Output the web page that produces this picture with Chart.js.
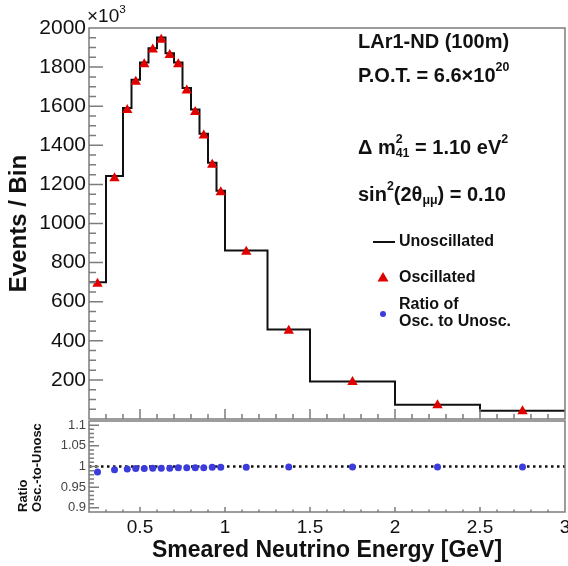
<!DOCTYPE html>
<html>
<head>
<meta charset="utf-8">
<script src="https://cdn.jsdelivr.net/npm/chart.js@4/dist/chart.umd.min.js"></script>
<style>
  html, body { margin: 0; padding: 0; background: #fff; }
  #wrap { position: relative; width: 568px; height: 566px; }
  canvas { position: absolute; left: 0; top: 0; }
</style>
</head>
<body>
<div id="wrap">
  <canvas id="main" width="568" height="566"></canvas>
  <canvas id="ratio" width="568" height="566"></canvas>
</div>
<script>
// bin edges [GeV] and contents (x10^3 events)
const binEdges = [0.2, 0.3, 0.4, 0.45, 0.5, 0.55, 0.6, 0.65, 0.7, 0.75, 0.8, 0.85, 0.9, 0.95, 1.0, 1.25, 1.5, 2.0, 2.5, 3.0];
const binCenters = [0.25, 0.35, 0.425, 0.475, 0.525, 0.575, 0.625, 0.675, 0.725, 0.775, 0.825, 0.875, 0.925, 0.975, 1.125, 1.375, 1.75, 2.25, 2.75];
const unoscillated = [700, 1243, 1591, 1735, 1823, 1896, 1952, 1871, 1823, 1693, 1583, 1459, 1311, 1167, 862, 458, 192, 73, 42];
const oscillated = [692, 1231, 1580, 1725, 1815, 1890, 1940, 1862, 1815, 1680, 1570, 1450, 1300, 1160, 855, 452, 189, 70, 40];
const ratio = [0.987, 0.992, 0.994, 0.995, 0.995, 0.996, 0.996, 0.996, 0.997, 0.997, 0.997, 0.997, 0.998, 0.998, 0.998, 0.999, 0.999, 0.999, 0.999];
const unityLine = [{ x: 0.2, y: 1 }, { x: 3.0, y: 1 }];

const mainTicks = [200, 400, 600, 800, 1000, 1200, 1400, 1600, 1800, 2000];
const ratioTicks = [0.9, 0.95, 1, 1.05, 1.1];
const energyTicks = [0.5, 1, 1.5, 2, 2.5, 3];

const FONT = "'Liberation Sans', Arial, Helvetica, sans-serif";
Chart.defaults.font.family = FONT;
Chart.defaults.color = "#111";

// ROOT style frame with inward tick marks
function framePlugin(o) {
  return {
    id: "frame",
    afterDatasetsDraw(chart) {
      const { ctx, chartArea: a, scales: { x, y } } = chart;
      ctx.save();
      ctx.strokeStyle = "#7c7c7c";
      ctx.lineWidth = 1.5;
      ctx.beginPath();
      let k0 = Math.ceil(y.min / o.yMinor - 1e-6), k1 = Math.floor(y.max / o.yMinor + 1e-6);
      for (let k = k0; k <= k1; k++) {
        const p = y.getPixelForValue(k * o.yMinor);
        const len = k % o.yEvery === 0 ? o.yLen : o.yLen / 2;
        ctx.moveTo(a.left, p);
        ctx.lineTo(a.left + len, p);
      }
      k0 = Math.ceil(x.min / o.xMinor - 1e-6); k1 = Math.floor(x.max / o.xMinor + 1e-6);
      for (let k = k0; k <= k1; k++) {
        const p = x.getPixelForValue(k * o.xMinor);
        const len = k % o.xEvery === 0 ? o.xLen : o.xLen / 2;
        ctx.moveTo(p, a.bottom);
        ctx.lineTo(p, a.bottom - len);
      }
      ctx.rect(a.left, a.top, a.right - a.left, a.bottom - a.top);
      ctx.stroke();
      ctx.restore();
    }
  };
}

function richText(ctx, x, y, parts, size, weight) {
  for (const [t, m, noAdvance] of parts) {
    const s = m ? size * 0.62 : size;
    ctx.font = `${weight} ${s}px ${FONT}`;
    const dy = m === "^" ? -size * 0.4 : m === "_" ? size * 0.28 : 0;
    ctx.fillText(t, x, y + dy);
    if (!noAdvance) x += ctx.measureText(t).width;
  }
}

const annotations = {
  id: "annotations",
  afterDraw(chart) {
    const { ctx } = chart;
    ctx.save();
    ctx.fillStyle = "#111";
    ctx.textBaseline = "middle";
    ctx.textAlign = "left";
    richText(ctx, 87, 17, [["\u00d710"], ["3", "^"]], 19, "normal");
    richText(ctx, 358, 42, [["LAr1-ND (100m)"]], 20, "bold");
    richText(ctx, 358, 76, [["P.O.T. = 6.6\u00d710"], ["20", "^"]], 20, "bold");
    richText(ctx, 358, 148, [["\u0394 m"], ["2", "^", true], ["41", "_"], [" = 1.10 eV"], ["2", "^"]], 20, "bold");
    richText(ctx, 358, 195, [["sin"], ["2", "^"], ["(2\u03b8"], ["\u03bc\u03bc", "_"], [") = 0.10"]], 20, "bold");

    // legend
    ctx.font = `bold 16px ${FONT}`;
    ctx.strokeStyle = "#111";
    ctx.lineWidth = 2;
    ctx.beginPath();
    ctx.moveTo(373, 242);
    ctx.lineTo(395, 242);
    ctx.stroke();
    ctx.fillText("Unoscillated", 399, 242);

    ctx.fillStyle = "#e00000";
    ctx.beginPath();
    ctx.moveTo(383, 272);
    ctx.lineTo(388.5, 281.5);
    ctx.lineTo(377.5, 281.5);
    ctx.closePath();
    ctx.fill();
    ctx.fillStyle = "#111";
    ctx.fillText("Oscillated", 399, 278);

    ctx.fillStyle = "#3c3cdc";
    ctx.beginPath();
    ctx.arc(383, 314, 3, 0, Math.PI * 2);
    ctx.fill();
    ctx.fillStyle = "#111";
    ctx.fillText("Ratio of", 399, 305);
    ctx.fillText("Osc. to Unosc.", 399, 322);
    ctx.restore();
  }
};

new Chart(document.getElementById("main"), {
  type: "line",
  data: {
    datasets: [
      {
        label: "Unoscillated",
        data: binEdges.map((e, i) => ({ x: e, y: unoscillated[Math.min(i, unoscillated.length - 1)] })),
        stepped: true,
        borderColor: "#111",
        borderWidth: 2,
        pointRadius: 0,
        fill: false,
        order: 2
      },
      {
        type: "scatter",
        label: "Oscillated",
        data: binCenters.map((c, i) => ({ x: c, y: oscillated[i] })),
        pointStyle: "triangle",
        pointRadius: 6,
        backgroundColor: "#e00000",
        borderColor: "#e00000",
        borderWidth: 0,
        order: 1
      }
    ]
  },
  options: {
    responsive: false,
    animation: false,
    devicePixelRatio: 1,
    layout: { autoPadding: false, padding: { left: 0, top: 28, right: 3, bottom: 147 } },
    plugins: { legend: { display: false }, tooltip: { enabled: false } },
    scales: {
      x: {
        type: "linear",
        min: 0.2,
        max: 3,
        grid: { display: false, drawTicks: false, tickLength: 0 },
        border: { display: false },
        ticks: { display: false },
        afterFit: (s) => { s.height = 0; s.paddingLeft = 0; s.paddingRight = 0; }
      },
      y: {
        min: 0,
        max: 2000,
        afterBuildTicks: (s) => { s.ticks = mainTicks.map((v) => ({ value: v })); },
        afterFit: (s) => { s.width = 89; },
        grid: { display: false, drawTicks: false, tickLength: 0 },
        border: { display: false },
        ticks: { padding: 3, color: "#111", font: { size: 21 }, callback: (v) => String(v) },
        title: {
          display: true,
          text: "Events / Bin",
          color: "#111",
          font: { size: 24, weight: "bold" },
          padding: { top: 5, bottom: 0 }
        }
      }
    }
  },
  plugins: [framePlugin({ yMinor: 50, yEvery: 4, yLen: 14, xMinor: 0.1, xEvery: 5, xLen: 10 }), annotations]
});

new Chart(document.getElementById("ratio"), {
  type: "scatter",
  data: {
    datasets: [
      {
        label: "Ratio",
        data: binCenters.map((c, i) => ({ x: c, y: ratio[i] })),
        pointRadius: 3.5,
        backgroundColor: "#3c3cdc",
        borderWidth: 0,
        order: 1
      },
      {
        type: "line",
        label: "Unity",
        data: unityLine,
        borderColor: "#111",
        borderWidth: 2.5,
        borderDash: [2.5, 3.5],
        pointRadius: 0,
        order: 2
      }
    ]
  },
  options: {
    responsive: false,
    animation: false,
    devicePixelRatio: 1,
    layout: { autoPadding: false, padding: { left: 0, top: 421, right: 3, bottom: 0 } },
    plugins: { legend: { display: false }, tooltip: { enabled: false } },
    scales: {
      x: {
        type: "linear",
        min: 0.2,
        max: 3,
        afterBuildTicks: (s) => { s.ticks = energyTicks.map((v) => ({ value: v })); },
        afterFit: (s) => { s.height = 54; s.paddingLeft = 0; s.paddingRight = 0; },
        grid: { display: false, drawTicks: false, tickLength: 0 },
        border: { display: false },
        ticks: { padding: 4, autoSkip: false, maxRotation: 0, color: "#111", font: { size: 19 }, callback: (v) => String(v) },
        title: {
          display: true,
          text: "Smeared Neutrino Energy [GeV]",
          color: "#111",
          font: { size: 23, weight: "bold" },
          padding: { top: 0, bottom: 2 }
        }
      },
      y: {
        min: 0.89,
        max: 1.11,
        afterBuildTicks: (s) => { s.ticks = ratioTicks.map((v) => ({ value: v })); },
        afterFit: (s) => { s.width = 89; },
        grid: { display: false, drawTicks: false, tickLength: 0 },
        border: { display: false },
        ticks: { padding: 3, color: "#444", font: { size: 13 }, callback: (v) => String(v) },
        title: {
          display: true,
          text: ["Ratio", "Osc.-to-Unosc"],
          align: "start",
          color: "#111",
          font: { size: 13, weight: "bold", lineHeight: 1.1 },
          padding: { top: 16, bottom: 0 }
        }
      }
    }
  },
  plugins: [framePlugin({ yMinor: 0.01, yEvery: 5, yLen: 10, xMinor: 0.1, xEvery: 5, xLen: 5 })]
});
</script>
</body>
</html>
